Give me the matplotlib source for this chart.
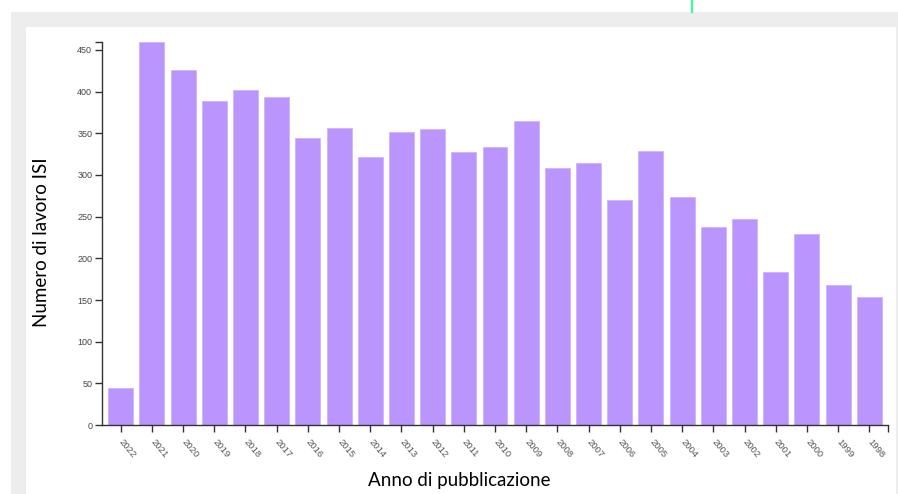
import numpy as np
import matplotlib
matplotlib.use('Agg')
import matplotlib.pyplot as plt
from matplotlib.patches import Rectangle
from matplotlib.lines import Line2D

years = ['2022', '2021', '2020', '2019', '2018', '2017', '2016', '2015', '2014',
         '2013', '2012', '2011', '2010', '2009', '2008', '2007', '2006', '2005',
         '2004', '2003', '2002', '2001', '2000', '1999', '1998']
counts = [45, 459, 426, 389, 402, 394, 344, 356, 321,
          352, 355, 327, 334, 365, 308, 314, 270, 329,
          273, 238, 247, 184, 229, 168, 154]
y_ticks = [0, 50, 100, 150, 200, 250, 300, 350, 400, 450]

bar_color = '#b995fd'
axis_color = '#333333'
tick_font = ['Liberation Sans Narrow', 'Liberation Sans', 'DejaVu Sans']

fig = plt.figure(figsize=(8.98, 4.94), dpi=100)
fig.patch.set_facecolor('white')

# grey frame of the screenshot
W, H = 898, 494
gray = '#ededed'
fig.patches.append(Rectangle((11 / W, 0), 887 / W, (494 - 12) / H, transform=fig.transFigure,
                             facecolor=gray, edgecolor='none', zorder=-2))
fig.patches.append(Rectangle((26 / W, 0), (896 - 26) / W, (494 - 27) / H, transform=fig.transFigure,
                             facecolor='white', edgecolor='none', zorder=-1))
fig.lines.append(Line2D([692 / W, 692 / W], [1 - 12 / H, 1], transform=fig.transFigure,
                        color='#3dfc95', lw=1.6))

ax = fig.add_axes([102 / W, (H - 425) / H, 786 / W, (425 - 42.5) / H])
ax.set_facecolor('none')
x = np.arange(len(years))
ax.bar(x, counts, width=0.8, color=bar_color, edgecolor='#c9b0fd', linewidth=0.5)

ax.set_xlim(-0.6, len(years) - 0.4)
ax.set_ylim(0, max(counts))

for s in ['top', 'right']:
    ax.spines[s].set_visible(False)
for s in ['left', 'bottom']:
    ax.spines[s].set_color(axis_color)
    ax.spines[s].set_linewidth(1.0)

ax.set_yticks(y_ticks)
ax.set_yticklabels([str(v) for v in y_ticks], fontsize=6.5, color='#444444', family=tick_font)
ax.set_xticks(x)
ax.set_xticklabels(years, rotation=-50, ha='left', va='center', rotation_mode='anchor',
                   fontsize=6.8, color='#555555', family=tick_font)
ax.tick_params(axis='both', length=5, width=1, color=axis_color)
ax.tick_params(axis='x', pad=6)
ax.tick_params(axis='y', pad=2)

# outer ticks at the ends of the axes
ax.set_yticks([max(counts)], minor=True)
ax.set_xticks([len(years) - 0.4], minor=True)
ax.tick_params(which='minor', length=5, width=1, color=axis_color)

fig.text(42 / W, 1 - 242 / H, 'Numero di lavoro ISI', rotation=90, ha='center', va='center',
         fontsize=13.5, family='Lato', color='black')
fig.text(459 / W, 1 - 480 / H, 'Anno di pubblicazione', ha='center', va='center',
         fontsize=13.5, family='Lato', color='black')

fig.savefig('out.png', dpi=100, facecolor=fig.get_facecolor())
